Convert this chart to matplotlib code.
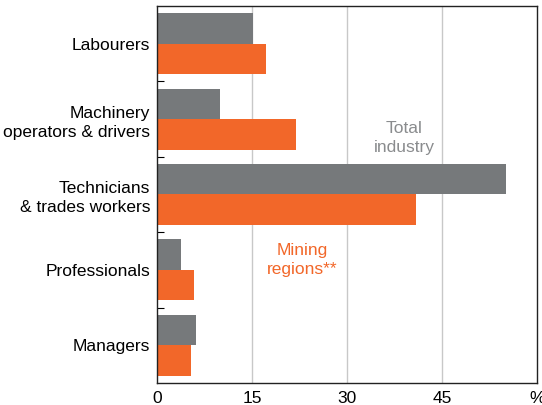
import matplotlib.pyplot as plt
import numpy as np

plt.rcParams['font.family'] = ['Liberation Sans', 'DejaVu Sans']

categories = ['Labourers', 'Machinery\noperators & drivers', 'Technicians\n& trades workers',
              'Professionals', 'Managers']
total_industry = [15.2, 10.0, 55.1, 3.8, 6.2]
mining_regions = [17.2, 21.9, 40.9, 5.8, 5.4]
xticks = [0, 15, 30, 45]

grey = '#76797b'
orange = '#f26729'

fig = plt.figure(figsize=(5.42, 4.05), dpi=100)
ax = fig.add_axes([157/542, 1 - 383/405, 380/542, 377/405])

y = np.arange(len(categories))
h = 0.405
ax.barh(y - h/2, total_industry, height=h, color=grey, zorder=2)
ax.barh(y + h/2, mining_regions, height=h, color=orange, zorder=2)

ax.set_xlim(0, 60)
ax.set_ylim(len(categories) - 0.5, -0.5)

# labels at group centres, small inward ticks at group boundaries
ax.set_yticks(y)
ax.set_yticklabels(categories, fontsize=12.5, ha='right', linespacing=1.35)
ax.tick_params(axis='y', length=0, pad=5)
ax.set_yticks(np.arange(0.5, len(categories) - 1, 1), minor=True)
ax.tick_params(axis='y', which='minor', direction='in', length=5, width=0.8)

ax.set_xticks(xticks + [60])
ax.set_xticklabels([str(t) for t in xticks] + ['%'], fontsize=12.5)
ax.tick_params(axis='x', length=0, pad=6)
for t in xticks[1:]:
    ax.axvline(t, color='#c8c8c8', lw=1, zorder=1)

for s in ax.spines.values():
    s.set_linewidth(1)
    s.set_color('#222222')

ax.text(39, 1.25, 'Total\nindustry', color='#8a8c8e', fontsize=12.5,
        ha='center', va='center', linespacing=1.4)
ax.text(22.9, 2.87, 'Mining\nregions**', color=orange, fontsize=12.5,
        ha='center', va='center', linespacing=1.4)

fig.savefig('out.png', dpi=100)
